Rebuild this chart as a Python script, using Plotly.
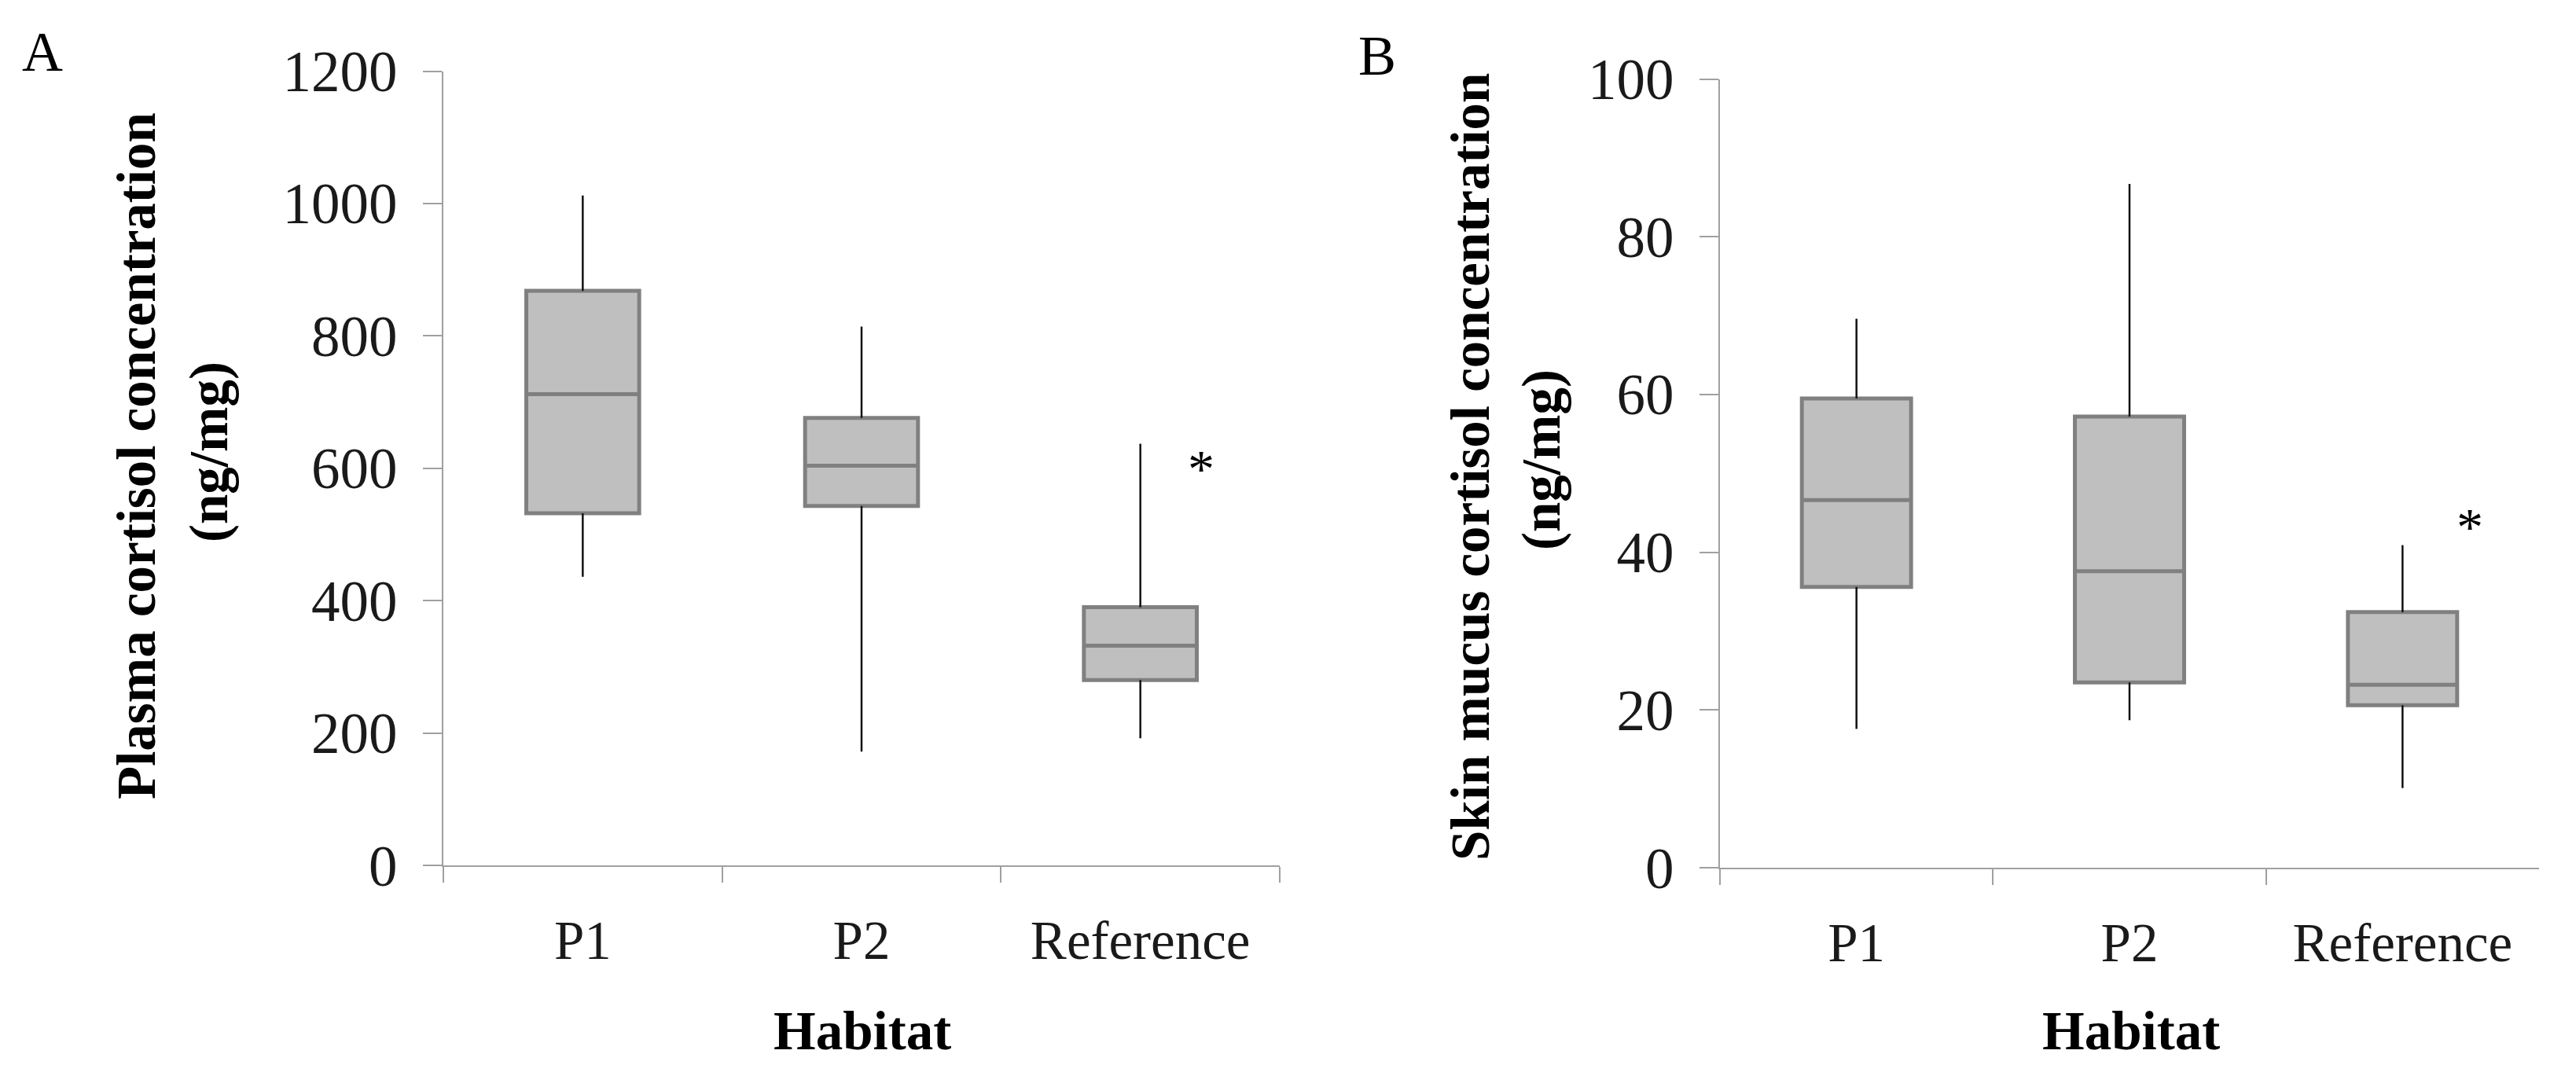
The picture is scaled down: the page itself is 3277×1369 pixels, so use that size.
import plotly.graph_objects as go

W, H = 3277, 1369
OFF = 8  # browser default body margin

categories = ["P1", "P2", "Reference"]

# Panel A: plasma cortisol (ng/mg)
plasma_lower = [436, 172, 192]
plasma_q1 = [532, 543, 280]
plasma_median = [712, 604, 332]
plasma_q3 = [868, 676, 390]
plasma_upper = [1012, 814, 637]

# Panel B: skin mucus cortisol (ng/mg)
mucus_lower = [17.6, 18.7, 10.1]
mucus_q1 = [35.6, 23.5, 20.6]
mucus_median = [46.6, 37.6, 23.2]
mucus_q3 = [59.5, 57.2, 32.4]
mucus_upper = [69.6, 86.7, 40.9]

plasma_ticks = [0, 200, 400, 600, 800, 1000, 1200]
mucus_ticks = [0, 20, 40, 60, 80, 100]

FONT = "Liberation Serif"
AXIS_GRAY = "#a0a0a0"
BOX_LINE = "#808080"
BOX_FILL = "#bfbfbf"

fig = go.Figure()


def add_panel(xa, ya, lower, q1, med, q3, upper, width):
    # whiskers (black thin lines) drawn from data via axes
    xs, ys = [], []
    for c, lo, a, b, hi in zip(categories, lower, q1, q3, upper):
        xs += [c, c, None, c, c, None]
        ys += [lo, a, None, b, hi, None]
    fig.add_trace(go.Scatter(x=xs, y=ys, mode="lines", xaxis=xa, yaxis=ya,
                             line=dict(color="#111111", width=2.5),
                             showlegend=False, hoverinfo="skip"))
    fig.add_trace(go.Box(x=categories, q1=q1, median=med, q3=q3,
                         lowerfence=q1, upperfence=q3,
                         xaxis=xa, yaxis=ya, width=width, whiskerwidth=0,
                         fillcolor=BOX_FILL,
                         line=dict(color=BOX_LINE, width=5),
                         boxpoints=False, showlegend=False))


add_panel("x", "y", plasma_lower, plasma_q1, plasma_median, plasma_q3, plasma_upper, 0.405)
add_panel("x2", "y2", mucus_lower, mucus_q1, mucus_median, mucus_q3, mucus_upper, 0.40)

xcommon = dict(type="category", categoryorder="array", categoryarray=categories,
               range=[-0.5, 2.5], tickson="boundaries", ticks="outside", ticklen=20,
               tickwidth=2, tickcolor=AXIS_GRAY, showline=True, linecolor=AXIS_GRAY,
               linewidth=2, showgrid=False, zeroline=False, automargin=False,
               tickfont=dict(family=FONT, size=69, color="#1a1a1a"),
               ticklabelstandoff=34)
ycommon = dict(ticks="outside", ticklen=24, tickwidth=2, tickcolor=AXIS_GRAY,
               showline=True, linecolor=AXIS_GRAY, linewidth=2, showgrid=False,
               zeroline=False, automargin=False,
               tickfont=dict(family=FONT, size=73, color="#1a1a1a"),
               ticklabelstandoff=18)


def xd(a, b):
    return [(a - OFF) / W, (b - OFF) / W]


def yd(bottom, top):
    return [1 - (bottom - OFF) / H, 1 - (top - OFF) / H]


fig.update_layout(
    width=W, height=H,
    margin=dict(l=0, r=0, t=0, b=0, autoexpand=False),
    paper_bgcolor="white", plot_bgcolor="white",
    xaxis=dict(domain=xd(564, 1628), anchor="y", **xcommon),
    yaxis=dict(domain=yd(1101, 90.5), anchor="x",
               range=[0, 1200], tickvals=plasma_ticks, **ycommon),
    xaxis2=dict(domain=xd(2188, 3230), anchor="y2", **xcommon),
    yaxis2=dict(domain=yd(1104, 100.5), anchor="x2",
                range=[0, 100], tickvals=mucus_ticks, **ycommon),
)

anns = []


def ann(text, x, y, font, **kw):
    d = dict(text=text, x=(x - OFF) / W, y=1 - (y - OFF) / H, xref="paper", yref="paper",
             xanchor="center", yanchor="middle", showarrow=False, font=font)
    d.update(kw)
    anns.append(d)


lfont = dict(family=FONT, size=72, color="#000")
tfont = dict(family=FONT, size=69, color="#000")
# panel letters
ann("A", 54, 66, lfont)
ann("B", 1752, 71, lfont)
# y titles
ann("<b>Plasma cortisol concentration</b>", 174, 580, tfont, textangle=-90)
ann("<b>(ng/mg)</b>", 266, 575, tfont, textangle=-90)
ann("<b>Skin mucus cortisol concentration</b>", 1871, 594, tfont, textangle=-90)
ann("<b>(ng/mg)</b>", 1961, 585, tfont, textangle=-90)
# x titles
ann("<b>Habitat</b>", 1097, 1312, tfont)
ann("<b>Habitat</b>", 2711, 1312, tfont)
# significance asterisks
anns.append(dict(text="*", x="Reference", y=612, xref="x", yref="y", xshift=77, yshift=-10,
                 showarrow=False, font=dict(family=FONT, size=68, color="#000")))
anns.append(dict(text="*", x="Reference", y=44, xref="x2", yref="y2", xshift=86, yshift=-8,
                 showarrow=False, font=dict(family=FONT, size=68, color="#000")))
fig.update_layout(annotations=anns)

fig.write_html("out.html")
